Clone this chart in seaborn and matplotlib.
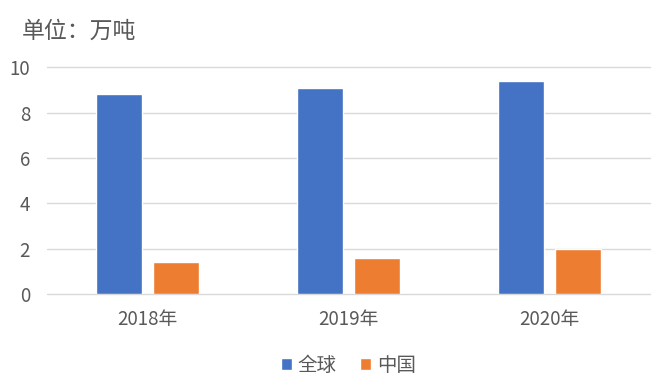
import pandas as pd
import seaborn as sns
import matplotlib.pyplot as plt

# Data
years = ["2018年", "2019年", "2020年"]
global_vals = [8.8, 9.1, 9.4]
china_vals = [1.4, 1.6, 2.0]
series = ["全球", "中国"]

df = pd.DataFrame({
    "year": years * 2,
    "value": global_vals + china_vals,
    "series": [series[0]] * 3 + [series[1]] * 3,
})

sns.set_style("white")
plt.rcParams['font.family'] = ['Noto Sans CJK SC', 'DejaVu Sans']

fig = plt.figure(figsize=(6.6, 3.86), dpi=100)
ax = fig.add_axes([0.071, 0.238, 0.914, 0.588])

sns.barplot(data=df, x="year", y="value", hue="series", palette=["#4472C4", "#ED7D31"],
            saturation=1, width=0.568, gap=0.2, ax=ax, legend=True)

ax.set_ylim(0, 10)
ax.set_xlim(-0.5, 2.5)
ax.set_yticks([0, 2, 4, 6, 8, 10])
ax.yaxis.grid(True, color="#D9D9D9", linewidth=1)
for gl in ax.get_ygridlines():
    gl.set_clip_on(False)
ax.set_axisbelow(True)
for s in ax.spines.values():
    s.set_visible(False)
ax.tick_params(axis="both", length=0, labelsize=13.5, labelcolor="#595959")
ax.tick_params(axis="x", pad=11)
ax.tick_params(axis="y", pad=12)
ax.set_xlabel("")
ax.set_ylabel("")

fig.text(0.033, 0.92, "单位：万吨", fontsize=16.5, color="#595959", va="center")

ax.legend(loc="upper center", bbox_to_anchor=(0.5, -0.19), ncol=2, frameon=False,
          fontsize=14, labelcolor="#595959", handlelength=0.55, handleheight=0.55,
          handletextpad=0.3, columnspacing=1.2)

fig.savefig("out.png", dpi=100)
